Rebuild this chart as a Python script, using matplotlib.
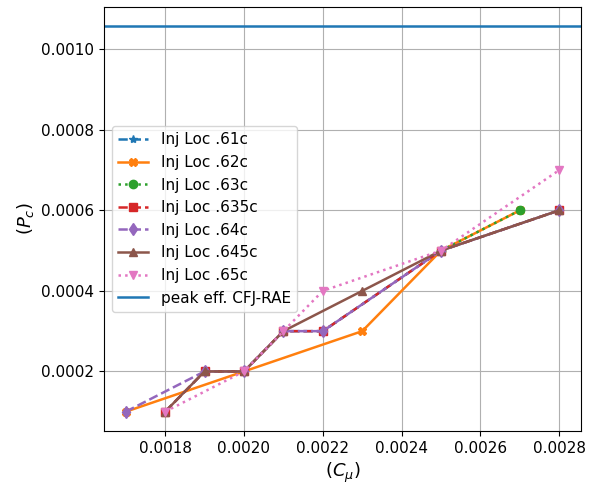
import matplotlib
matplotlib.use("Agg")
import matplotlib.pyplot as plt

# momentum coefficient vs power coefficient for each injection location
cmu_61 = [0.0018, 0.0019, 0.0020, 0.0021, 0.0022, 0.0025, 0.0028]
pc_61 = [0.0001, 0.0002, 0.0002, 0.0003, 0.0003, 0.0005, 0.0006]

cmu_62 = [0.0017, 0.0020, 0.0023, 0.0025, 0.0027]
pc_62 = [0.0001, 0.0002, 0.0003, 0.0005, 0.0006]

cmu_63 = [0.0025, 0.0027]
pc_63 = [0.0005, 0.0006]

cmu_635 = [0.0018, 0.0019, 0.0020, 0.0021, 0.0022, 0.0025, 0.0028]
pc_635 = [0.0001, 0.0002, 0.0002, 0.0003, 0.0003, 0.0005, 0.0006]

cmu_64 = [0.0017, 0.0019, 0.0020, 0.0021, 0.0022, 0.0025, 0.0028]
pc_64 = [0.0001, 0.0002, 0.0002, 0.0003, 0.0003, 0.0005, 0.0006]

cmu_645 = [0.0018, 0.0019, 0.0020, 0.0021, 0.0023, 0.0025, 0.0028]
pc_645 = [0.0001, 0.0002, 0.0002, 0.0003, 0.0004, 0.0005, 0.0006]

cmu_65 = [0.0018, 0.0020, 0.0021, 0.0022, 0.0025, 0.0028]
pc_65 = [0.0001, 0.0002, 0.0003, 0.0004, 0.0005, 0.0007]

peak_eff = 0.001057

plt.rcParams['lines.linewidth'] = 1.8
plt.rcParams['xtick.labelsize'] = 11
plt.rcParams['ytick.labelsize'] = 11

fig = plt.figure(figsize=(5.89, 4.86), dpi=100)
fig.subplots_adjust(left=0.1766, right=0.9864, top=0.9856, bottom=0.1132)

plt.plot(cmu_61, pc_61, '*--', label='Inj Loc .61c')
plt.plot(cmu_62, pc_62, 'X-', label='Inj Loc .62c')
plt.plot(cmu_63, pc_63, 'o:', label='Inj Loc .63c')
plt.plot(cmu_635, pc_635, 's--', label='Inj Loc .635c')
plt.plot(cmu_64, pc_64, 'd--', label='Inj Loc .64c')
plt.plot(cmu_645, pc_645, '^-', label='Inj Loc .645c')
plt.plot(cmu_65, pc_65, 'v:', label='Inj Loc .65c')
plt.axhline(peak_eff, label='peak eff. CFJ-RAE')

plt.xlabel(r'$(C_{\mu})$', fontsize=13)
plt.ylabel(r'$(P_c)$', fontsize=13)
plt.grid(True)
plt.legend(loc='center left', fontsize=11)
plt.savefig('out.png')
